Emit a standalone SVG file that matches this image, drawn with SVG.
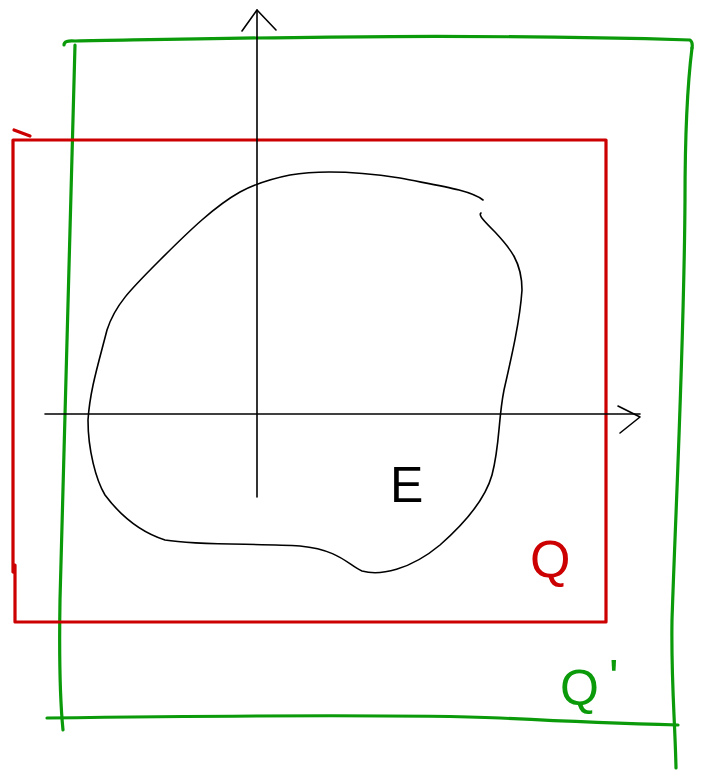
<svg xmlns="http://www.w3.org/2000/svg" width="705" height="771" viewBox="0 0 705 771">
<style>
.g{fill:none;stroke:#0a9a0a;stroke-width:3.2;stroke-linecap:round;stroke-linejoin:round}
.r{fill:none;stroke:#cc0000;stroke-width:3.2;stroke-linecap:round;stroke-linejoin:round}
.k{fill:none;stroke:#000;stroke-width:1.6;stroke-linecap:round;stroke-linejoin:round}
.t{font-family:"Liberation Sans",Arial,sans-serif}
</style>
<rect width="705" height="771" fill="#fff"/>
<g id="Qprime-box">
<path class="g" d="M64,45 Q64,40 75,41 C250,38 450,33 690,40 Q693,42 692,48"/>
<path class="g" d="M692,48 C688,80 685,120 685,200 C684,350 676,500 672,620 C671,680 675,720 676,768"/>
<path class="g" d="M75,45 C72,200 66,400 60,600 C59,660 60,700 63,730"/>
<path class="g" d="M47,718 C200,716 400,714 500,718 C580,722 640,724 678,725"/>
</g>
<g id="Q-box">
<path class="r" d="M14,130 L30,136"/>
<path class="r" d="M13,140 L606,140 L606,622 L15,622 L15,565 L13,572 L13,140"/>
</g>
<g id="axes">
<path class="k" d="M257,10 L257,497"/>
<path class="k" d="M242,31 L257,10 L276,30"/>
<path class="k" d="M45,414 L640,414"/>
<path class="k" d="M618,406 L640,417 L620,433"/>
</g>
<g id="E-region">
<path class="k" d="M483,200 C470,190 440,186 400,178 C360,172 320,170 290,175 C270,179 255,184 240,192 C215,206 190,230 160,260 C130,290 115,305 107,330 C98,365 90,390 88,420 C88,450 96,480 105,495 C120,515 140,532 165,540 C200,546 260,543 300,546 C340,550 348,565 362,571 C380,576 410,570 440,545 C465,523 485,500 492,475 C500,445 498,420 504,390 C512,355 520,320 522,290 C522,262 510,248 495,232 C485,222 478,215 481,213"/>
</g>
<g id="labels">
<text class="t" x="390" y="502" font-size="50" fill="#000">E</text>
<text class="t" x="530" y="577" font-size="52" fill="#cc0000">Q</text>
<text class="t" x="560" y="705" font-size="50" fill="#0a9a0a">Q<tspan dx="10" dy="-10">'</tspan></text>
</g>
</svg>
